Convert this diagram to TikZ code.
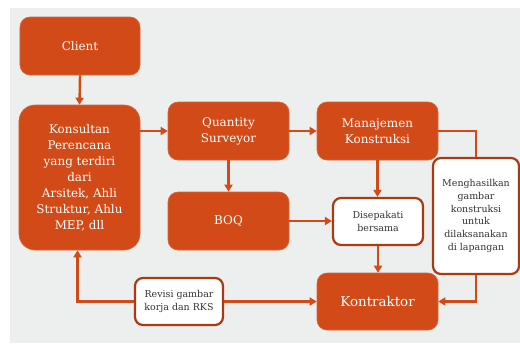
\documentclass[tikz,border=0pt]{standalone}
\usepackage{fontspec}
\setmainfont{DejaVu Serif}
\usetikzlibrary{arrows.meta}
\definecolor{orng}{HTML}{D24A17}
\definecolor{dorng}{HTML}{A93A12}
\definecolor{bgc}{HTML}{EDEEEE}
\definecolor{txt}{HTML}{333333}
\begin{document}
\begin{tikzpicture}[x=1bp,y=-1bp,
  obox/.style={rectangle,rounded corners=10bp,fill=orng,draw=orng!85!white,line width=0.6bp,text=white,align=center,inner sep=0pt,font=\fontsize{12}{16}\selectfont},
  wbox/.style={rectangle,rounded corners=8bp,fill=white,draw=dorng,line width=2.2bp,text=txt,align=center,inner sep=0pt,font=\fontsize{9.5}{12.7}\selectfont},
  conn/.style={draw=orng,line width=2.4bp},
  arr/.style={conn,-{Triangle[width=8bp,length=7bp]}}]
\useasboundingbox (0,0) rectangle (520,343);
\fill[white] (0,0) rectangle (520,343);
\fill[bgc] (10,8) rectangle (520,343);
\node[obox,minimum width=120bp,minimum height=58bp] (client) at (80,46) {Client};
\node[obox,minimum width=121bp,minimum height=145bp,rounded corners=16bp] (kons) at (79.5,177.5) {Konsultan\\Perencana\\yang terdiri\\dari\\Arsitek, Ahli\\Struktur, Ahlu\\MEP, dll};
\node[obox,minimum width=121bp,minimum height=58bp] (qs) at (228.5,131) {Quantity\\Surveyor};
\node[obox,minimum width=121bp,minimum height=58bp] (mk) at (377.5,131) {Manajemen\\Konstruksi};
\node[obox,minimum width=121bp,minimum height=58bp] (boq) at (228.5,221) {BOQ};
\node[wbox,minimum width=90bp,minimum height=47bp] (dis) at (378,221.5) {Disepakati\\bersama};
\node[wbox,minimum width=86bp,minimum height=116bp] (meng) at (476,216) {Menghasilkan\\gambar\\konstruksi\\untuk\\dilaksanakan\\di lapangan};
\node[obox,minimum width=121bp,minimum height=57bp,font=\fontsize{13.5}{16}\selectfont] (kon) at (377.5,301.5) {Kontraktor};
\node[wbox,minimum width=88bp,minimum height=47bp] (rev) at (179,301.5) {Revisi gambar\\korja dan RKS};
\draw[arr] (client.south) -- (kons.north);
\draw[arr] (kons.east |- qs.west) -- (qs.west);
\draw[arr] (qs.east) -- (mk.west);
\draw[arr] (qs.south) -- (boq.north);
\draw[arr] (boq.east) -- (boq.east -| dis.west);
\draw[arr] (mk.south) -- (mk.south |- dis.north);
\draw[arr] (dis.south) -- (dis.south |- kon.north);
\draw[conn] (mk.east) -| (meng.north);
\draw[arr] (meng.south) |- (kon.east);
\draw[arr] (rev.east) -- (kon.west);
\draw[arr] (rev.west) -| ([xshift=-2bp]kons.south);
\end{tikzpicture}
\end{document}
